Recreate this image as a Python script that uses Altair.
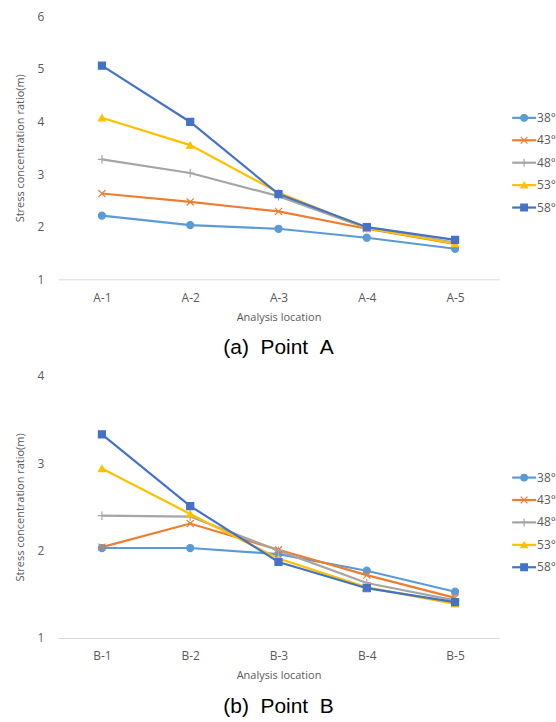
import altair as alt
import pandas as pd

series = ["38°", "43°", "48°", "53°", "58°"]
colors = ["#5B9BD5", "#ED7D31", "#A5A5A5", "#FFC000", "#4472C4"]
shapes = ["circle", "M-1,-1L1,1M-1,1L1,-1", "M-1.2,0L1.2,0M0,-1.2L0,1.2", "triangle-up", "square"]

loc_a = ["A-1", "A-2", "A-3", "A-4", "A-5"]
a_38 = [2.21, 2.03, 1.96, 1.79, 1.58]
a_43 = [2.63, 2.47, 2.29, 1.96, 1.67]
a_48 = [3.28, 3.02, 2.58, 1.97, 1.70]
a_53 = [4.07, 3.55, 2.65, 1.97, 1.68]
a_58 = [5.06, 3.99, 2.62, 1.99, 1.75]

loc_b = ["B-1", "B-2", "B-3", "B-4", "B-5"]
b_38 = [2.03, 2.03, 1.96, 1.77, 1.53]
b_43 = [2.04, 2.31, 2.01, 1.72, 1.46]
b_48 = [2.40, 2.39, 2.00, 1.63, 1.43]
b_53 = [2.94, 2.42, 1.91, 1.58, 1.39]
b_58 = [3.33, 2.51, 1.87, 1.57, 1.41]

FONT = "Open Sans"
GRAY = "#595959"
NB = "\u00a0"

color_scale = alt.Scale(domain=series, range=colors)
shape_scale = alt.Scale(domain=series, range=shapes)


def long_df(locs, cols):
    rows = []
    for s, vals in zip(series, cols):
        for loc, v in zip(locs, vals):
            rows.append({"loc": loc, "series": s, "value": v})
    return pd.DataFrame(rows)


def panel(locs, cols, ymax, caption, height):
    df = long_df(locs, cols)
    base = alt.Chart(df).encode(
        x=alt.X("loc:N", sort=locs, scale=alt.Scale(type="point", padding=0.5),
                axis=alt.Axis(title="Analysis location", labelAngle=0, ticks=False,
                              domainColor="#D9D9D9", labelPadding=13, titlePadding=8)),
        y=alt.Y("value:Q", scale=alt.Scale(domain=[1, ymax], nice=False),
                axis=alt.Axis(title="Stress concentration ratio(m)", values=list(range(1, ymax + 1)),
                              grid=False, domain=False, ticks=False, labelPadding=14,
                              titlePadding=12)),
        color=alt.Color("series:N", scale=color_scale, legend=None),
    )
    lines = base.mark_line(strokeWidth=2.2)
    pts = base.mark_point(filled=True, size=50, opacity=1, strokeWidth=1.2).encode(
        shape=alt.Shape("series:N", scale=shape_scale, legend=None),
        stroke=alt.Stroke("series:N", scale=color_scale, legend=None),
    )
    main = (lines + pts).properties(
        width=443, height=height,
        title=alt.TitleParams(caption, orient="bottom", font="Liberation Sans", fontSize=21,
                              fontWeight="normal", color="black", offset=15),
    )

    ldf = pd.DataFrame({"series": series})
    ly = alt.Y("series:N", sort=series,
               scale=alt.Scale(type="point", range=[102, 192], padding=0), axis=None)
    lc = alt.Color("series:N", scale=color_scale, legend=None)
    rule = alt.Chart(ldf).mark_rule(strokeWidth=2.2).encode(
        y=ly, x=alt.value(13), x2=alt.value(37), color=lc)
    lpts = alt.Chart(ldf).mark_point(filled=True, size=45, opacity=1, strokeWidth=1.2).encode(
        y=ly, x=alt.value(25), color=lc,
        shape=alt.Shape("series:N", scale=shape_scale, legend=None),
        stroke=alt.Stroke("series:N", scale=color_scale, legend=None))
    ltxt = alt.Chart(ldf).mark_text(align="left", baseline="middle", font=FONT, fontSize=12,
                                    color=GRAY).encode(
        y=ly, x=alt.value(38), text="series:N")
    legend = (rule + lpts + ltxt).properties(width=50, height=height)
    return alt.hconcat(main, legend, spacing=0)


top = panel(loc_a, [a_38, a_43, a_48, a_53, a_58], 6, f"(a){NB}{NB}Point{NB}{NB}A", 264)
bot = panel(loc_b, [b_38, b_43, b_48, b_53, b_58], 4, f"(b){NB}{NB}Point{NB}{NB}B", 263)

chart = alt.vconcat(top, bot, spacing=12).properties(
    padding={"left": 14, "top": 9, "right": 0, "bottom": 0}
).configure_view(stroke=None).configure_axis(
    labelFont=FONT, titleFont=FONT, labelFontSize=12, titleFontSize=11,
    labelColor=GRAY, titleColor=GRAY, titleFontWeight="normal"
).configure_concat(spacing=0)

chart.save("out.html", embed_options={"renderer": "svg", "actions": False})
